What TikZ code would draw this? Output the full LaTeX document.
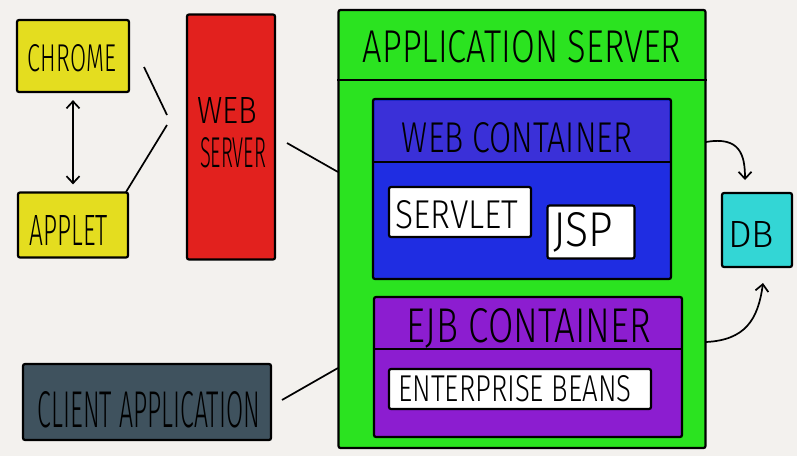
\documentclass[tikz,border=0pt]{standalone}
\usepackage{fontspec}
\setmainfont{Fira Sans}[UprightFont=* Light]
\usepackage{graphicx}
\usetikzlibrary{arrows.meta,calc}
\definecolor{bg}{HTML}{F3F1EE}
\definecolor{yel}{HTML}{E4DD1F}
\definecolor{wsred}{HTML}{E2211E}
\definecolor{grn}{HTML}{2BE320}
\definecolor{bluA}{HTML}{3A30D8}
\definecolor{bluB}{HTML}{1F2DE2}
\definecolor{pur}{HTML}{8C1DD0}
\definecolor{cya}{HTML}{33D6D5}
\definecolor{slate}{HTML}{3F525E}
\newcommand\txtfit[3]{\resizebox{#1pt}{#2pt}{#3}}
\begin{document}
\begin{tikzpicture}[x=1pt,y=-1pt,
  box/.style={draw=black,line width=2.2pt,inner sep=0pt,rounded corners=2pt},
  band/.style={inner sep=0pt,draw=none},
  txt/.style={inner sep=0pt,text=black},
  arr/.style={-{Straight Barb[length=7pt,width=13pt]},line width=1.7pt},
  dbl/.style={{Straight Barb[length=7pt,width=13pt]}-{Straight Barb[length=7pt,width=13pt]},line width=1.7pt},
  ln/.style={line width=1.7pt}]
\fill[bg] (0,0) rectangle (797,456);
\useasboundingbox (0,0) rectangle (797,456);

% left column
\node[box,fill=yel,minimum width=112pt,minimum height=72pt] (chrome) at (73,56) {};
\node[txt] (tchrome) at (72,58) {\txtfit{88}{27}{CHROME}};
\node[box,fill=yel,minimum width=110pt,minimum height=65pt] (applet) at (73,225) {};
\node[txt] (tapplet) at (69,230) {\txtfit{78}{30}{APPLET}};
\draw[dbl,shorten <=7pt,shorten >=7pt] (chrome.south) -- (applet.north);

% web server
\node[box,fill=wsred,minimum width=88pt,minimum height=245pt] (webserver) at (231,137) {};
\node[txt] (tweb) at (227,110) {\txtfit{60}{26}{WEB}};
\node[txt] (tserver) at (233,153) {\txtfit{66}{30}{SERVER}};

\coordinate (c1a) at (144,67);
\coordinate (c1b) at (167,115);
\coordinate (c2a) at (167,125);
\coordinate (c2b) at (126,192);
\draw[ln] (c1a) -- (c1b);
\draw[ln] (c2a) -- (c2b);

% application server
\node[box,fill=grn,minimum width=367pt,minimum height=438pt] (appserver) at (522,229) {};
\coordinate (hdr) at (0,80);
\draw[line width=2.2pt] (appserver.west |- hdr) -- (appserver.east |- hdr);
\node[txt] (tapp) at (522,47) {\txtfit{318}{32}{APPLICATION SERVER}};

\coordinate (wsout) at (287,143);
\coordinate (wsin) at (338,172);
\draw[ln] (wsout) -- (wsin);

% web container
\node[box,fill=bluB,minimum width=298pt,minimum height=180pt] (webcont) at (522,189) {};
\node[band,fill=bluA,minimum width=294pt,minimum height=60pt] (webhdr) at (522,131) {};
\coordinate (wdiv) at (0,162);
\draw[line width=2pt] (webcont.west |- wdiv) -- (webcont.east |- wdiv);
\node[txt] (twebc) at (517,138) {\txtfit{230}{30}{WEB CONTAINER}};
\node[box,fill=white,minimum width=142pt,minimum height=50pt] (servlet) at (460,212) {};
\node[txt] (tservlet) at (457,215) {\txtfit{123}{28}{SERVLET}};
\node[box,fill=white,minimum width=87pt,minimum height=53pt] (jsp) at (591,232) {};
\node[txt] (tjsp) at (583,232) {\txtfit{60}{34}{JSP}};

% EJB container
\node[box,fill=pur,minimum width=308pt,minimum height=140pt] (ejbcont) at (528,367) {};
\coordinate (ediv) at (0,349);
\draw[line width=2pt] (ejbcont.west |- ediv) -- (ejbcont.east |- ediv);
\node[txt] (tejb) at (529,328) {\txtfit{244}{34}{EJB CONTAINER}};
\node[box,fill=white,minimum width=262pt,minimum height=40pt] (beans) at (520,389) {};
\node[txt] (tbeans) at (515,389) {\txtfit{233}{26}{ENTERPRISE BEANS}};

% DB
\node[box,fill=cya,minimum width=70pt,minimum height=74pt] (db) at (757,230) {};
\node[txt] (tdb) at (751,234) {\txtfit{46}{26}{DB}};

\coordinate (wcout) at (706,142);
\coordinate (ejbout) at (706,342);
\coordinate (dbtop) at (745,180);
\coordinate (dbbot) at (763,283);
\draw[arr] (wcout) .. controls (740,136) and (745,155) .. (dbtop);
\draw[arr] (ejbout) .. controls (745,340) and (758,320) .. (dbbot);

% client application
\node[box,fill=slate,minimum width=248pt,minimum height=76pt] (client) at (147,402) {};
\node[txt] (tclient) at (149,410) {\txtfit{222}{36}{CLIENT APPLICATION}};
\coordinate (clout) at (282,400);
\coordinate (clin) at (338,368);
\draw[ln] (clout) -- (clin);
\end{tikzpicture}
\end{document}
